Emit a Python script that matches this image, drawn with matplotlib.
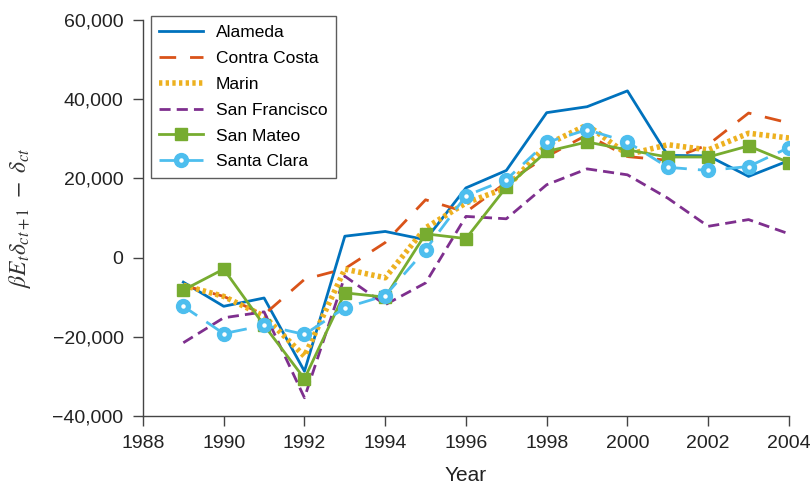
import matplotlib
matplotlib.use("Agg")
import matplotlib.pyplot as plt
from matplotlib.ticker import FuncFormatter
from matplotlib.legend_handler import HandlerTuple

years = list(range(1989, 2005))
alameda = [-6200, -12300, -10200, -28700, 5400, 6600, 4500, 17600, 22000, 36600, 38100, 42100, 25800, 25700, 20500, 24500]
contra_costa = [-7000, -9800, -14400, -5500, -2800, 3800, 14600, 11500, 19000, 25500, 31000, 25500, 24600, 28500, 36500, 34000]
marin = [-7000, -9800, -14800, -24900, -2900, -5100, 7500, 13800, 17600, 28500, 33500, 26000, 28500, 27200, 31400, 30200]
san_francisco = [-21500, -15200, -13700, -35400, -4700, -11900, -6400, 10400, 9800, 18400, 22400, 20900, 15000, 7900, 9600, 6000]
san_mateo = [-8200, -2900, -17100, -30600, -8900, -10000, 6000, 4800, 17800, 26800, 29200, 27200, 25400, 25400, 28200, 24000]
santa_clara = [-12300, -19200, -17100, -19400, -12700, -9600, 2000, 15600, 19700, 29100, 32300, 29200, 22800, 22000, 23000, 27800]

plt.rcParams['font.family'] = ['Liberation Sans', 'DejaVu Sans']
plt.rcParams['mathtext.fontset'] = 'stix'

fig = plt.figure(figsize=(8.1, 4.84), dpi=100)
ax = fig.add_axes([0.1765, 0.1405, 0.7975, 0.8182])

lw = 2.0
h1, = ax.plot(years, alameda, color='#0072BD', lw=lw, label='Alameda')
h2, = ax.plot(years, contra_costa, color='#D95319', lw=lw, ls=(0, (6, 5)), label='Contra Costa')
h3, = ax.plot(years, marin, color='#EDB120', lw=4.0, ls=(0, (0.6, 0.6)), label='Marin')
h4, = ax.plot(years, san_francisco, color='#7E2F8E', lw=lw, ls=(0, (4, 2.2)), label='San Francisco')
h5, = ax.plot(years, san_mateo, color='#77AC30', lw=lw, marker='s', ms=9, label='San Mateo')
h6, = ax.plot(years, santa_clara, color='#4DBEEE', lw=lw, ls=(0, (6, 4)), marker='o', ms=10,
              label='Santa Clara')
h6b, = ax.plot(years, santa_clara, ls='none', marker='o', ms=2.2, color='white', mec='white')

ax.set_xlim(1988, 2004)
ax.set_ylim(-40000, 60000)
ax.set_xticks(range(1988, 2005, 2))
ax.set_yticks(range(-40000, 60001, 20000))
ax.yaxis.set_major_formatter(FuncFormatter(lambda v, p: f"{int(v):,}".replace('-', '\u2212')))

for s in ['top', 'right']:
    ax.spines[s].set_visible(False)
for s in ['left', 'bottom']:
    ax.spines[s].set_color('#444444')
    ax.spines[s].set_linewidth(1.0)
ax.tick_params(direction='out', length=7, width=1.0, color='#444444', labelsize=14,
               labelcolor='#222222', pad=7)

ax.set_xlabel('Year', fontsize=15, color='#222222', labelpad=10)
ax.set_ylabel(r'$\beta E_t\delta_{ct+1}\ -\ \delta_{ct}$', fontsize=17, color='#333333', labelpad=14)

handles = [h1, h2, h3, h4, h5, (h6, h6b)]
labels = ['Alameda', 'Contra Costa', 'Marin', 'San Francisco', 'San Mateo', 'Santa Clara']
leg = ax.legend(handles, labels, loc='upper left', bbox_to_anchor=(0.012, 1.01), fontsize=12.5,
                frameon=True, fancybox=False, edgecolor='#333333', handlelength=2.5,
                labelspacing=0.62, borderpad=0.5, handletextpad=0.75, borderaxespad=0.0,
                handler_map={tuple: HandlerTuple(ndivide=1, pad=0)})
leg.get_frame().set_linewidth(1.0)

fig.savefig('out.png', dpi=100)
